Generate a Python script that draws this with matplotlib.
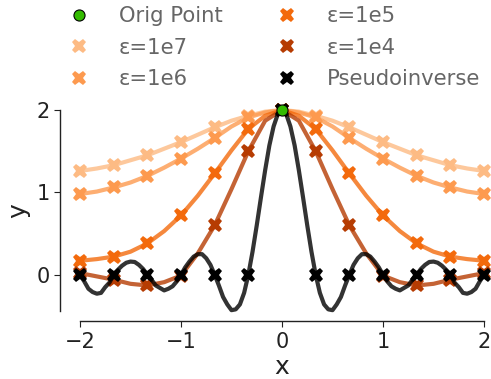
import matplotlib
matplotlib.use("Agg")
import matplotlib.pyplot as plt
import numpy as np

# sample points (every 1/3) and curve values
x_curve = np.linspace(-2, 2, 25)   # step 1/6
x_black = np.linspace(-2, 2, 97)   # step 1/24

eps_1e7 = [1.26, 1.29, 1.33, 1.39, 1.45, 1.53, 1.61, 1.70, 1.79, 1.87, 1.93, 1.98, 2.00,
           1.98, 1.93, 1.87, 1.79, 1.70, 1.61, 1.53, 1.45, 1.39, 1.33, 1.29, 1.26]
eps_1e6 = [0.98, 1.01, 1.06, 1.12, 1.20, 1.30, 1.41, 1.53, 1.66, 1.80, 1.91, 1.97, 2.00,
           1.97, 1.91, 1.80, 1.66, 1.53, 1.41, 1.30, 1.20, 1.12, 1.06, 1.01, 0.98]
eps_1e5 = [0.17, 0.19, 0.22, 0.28, 0.38, 0.53, 0.72, 0.96, 1.23, 1.51, 1.77, 1.93, 2.00,
           1.93, 1.77, 1.51, 1.23, 0.96, 0.72, 0.53, 0.38, 0.28, 0.22, 0.19, 0.17]
eps_1e4 = [0.02, -0.02, -0.06, -0.11, -0.13, -0.09, -0.01, 0.26, 0.60, 1.04, 1.50, 1.87, 2.00,
           1.87, 1.50, 1.04, 0.60, 0.26, -0.01, -0.09, -0.13, -0.11, -0.06, -0.02, 0.02]
pinv = [0.00, -0.08, -0.17, -0.21, -0.23, -0.22, -0.15, -0.095,
        0.00, 0.06, 0.11, 0.146, 0.16, 0.155, 0.12, 0.07,
        0.00, -0.06, -0.13, -0.16, -0.19, -0.17, -0.14, -0.08,
        0.00, 0.09, 0.16, 0.22, 0.25, 0.25, 0.20, 0.12,
        0.00, -0.13, -0.27, -0.36, -0.43, -0.42, -0.36, -0.22,
        0.00, 0.28, 0.60, 0.94, 1.27, 1.57, 1.80, 1.95,
        2.00,
        1.95, 1.80, 1.57, 1.27, 0.94, 0.60, 0.28, 0.00,
        -0.22, -0.36, -0.42, -0.43, -0.36, -0.27, -0.13, 0.00,
        0.12, 0.20, 0.25, 0.25, 0.22, 0.16, 0.09, 0.00,
        -0.08, -0.14, -0.17, -0.19, -0.16, -0.13, -0.06, 0.00,
        0.07, 0.12, 0.155, 0.16, 0.146, 0.11, 0.06, 0.00,
        -0.095, -0.15, -0.22, -0.23, -0.21, -0.17, -0.08, 0.00]

orig_x = [0]
orig_y = [2]

series = [
    ("ε=1e7", eps_1e7, "#fdbb84"),
    ("ε=1e6", eps_1e6, "#fd9a4f"),
    ("ε=1e5", eps_1e5, "#f36a0c"),
    ("ε=1e4", eps_1e4, "#b63c02"),
]

fig = plt.figure(figsize=(4.91, 3.79), dpi=100)
ax = fig.add_axes([80 / 491, 68 / 379, 404 / 491, 201 / 379])

ax.plot(orig_x, orig_y, "o", color="#33bb00", mec="black", mew=0.8, ms=8,
        label="Orig Point", zorder=10, clip_on=False, linestyle="none")

for lab, vals, col in series:
    ax.plot(x_curve, vals, color=col, lw=3, alpha=0.8, clip_on=False, zorder=2)
    ax.plot(x_curve[::2], vals[::2], "X", color=col, ms=10.5, mew=0,
            linestyle="none", label=lab, clip_on=False, zorder=3)

ax.plot(x_black, pinv, color="black", lw=3, alpha=0.8, clip_on=False, zorder=4)
ax.plot(x_black[::8], pinv[::8], "X", color="black", ms=10.5, mew=0,
        linestyle="none", label="Pseudoinverse", clip_on=False, zorder=5)

ax.set_xlim(-2, 2)
ax.set_ylim(-0.44, 2)
ax.set_xticks([-2, -1, 0, 1, 2])
ax.set_yticks([0, 1, 2])

for s in ["top", "right"]:
    ax.spines[s].set_visible(False)
ax.spines["left"].set_position(("outward", 14.5))
ax.spines["bottom"].set_position(("outward", 7.5))
for s in ["left", "bottom"]:
    ax.spines[s].set_color("#222222")
    ax.spines[s].set_linewidth(1.0)
ax.tick_params(labelsize=15, colors="#222222", length=4)

ax.set_xlabel("x", fontsize=18, color="#222222", labelpad=2)
ax.set_ylabel("y", fontsize=18, color="#222222", labelpad=4)

leg = fig.legend(loc="upper left", bbox_to_anchor=(58 / 491, 1 - 6 / 379), ncol=2,
                 frameon=False, fontsize=15.2, borderpad=0, borderaxespad=0,
                 labelspacing=0.55, handletextpad=0.89, columnspacing=2.04)
for t in leg.get_texts():
    t.set_color("#666666")

fig.savefig("out.png", dpi=100)
